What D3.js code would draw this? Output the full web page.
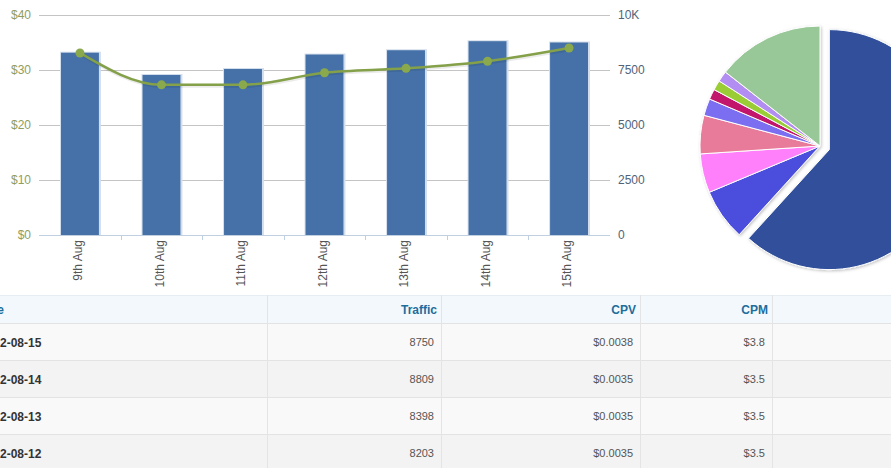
<!DOCTYPE html>
<html>
<head>
<meta charset="utf-8">
<script src="https://cdn.jsdelivr.net/npm/d3@7"></script>
<style>
  body { margin: 0; background: #fff; overflow: hidden; }
  svg { display: block; font-family: "Liberation Sans", Arial, sans-serif; }
</style>
</head>
<body>
<svg id="chart" width="891" height="468"></svg>
<script>
// daily chart data
const days = ["9th Aug", "10th Aug", "11th Aug", "12th Aug", "13th Aug", "14th Aug", "15th Aug"];
const traffic = [8286, 7273, 7545, 8203, 8398, 8809, 8750];
const spend = [33.1, 27.3, 27.3, 29.5, 30.3, 31.6, 34.0];
const spendTicks = [0, 10, 20, 30, 40];
const trafficTicks = [0, 2500, 5000, 7500, 10000];

// pie shares (percent), clockwise from 12 o'clock
const sourceShare = [61.75, 6.94, 5.25, 5.17, 2.28, 1.39, 1.33, 1.44, 14.44];
const sourceColors = ["#30509c", "#4b4edc", "#ff80fa", "#e87a9a", "#7b6ef0", "#c2166c", "#9acd36", "#b38ef2", "#98c898"];

// table
const tableHeads = ["Date", "Traffic", "CPV", "CPM", ""];
const rowDates = ["2012-08-15", "2012-08-14", "2012-08-13", "2012-08-12"];
const rowTraffic = [8750, 8809, 8398, 8203];
const rowCPV = ["$0.0038", "$0.0035", "$0.0035", "$0.0035"];
const rowCPM = ["$3.8", "$3.5", "$3.5", "$3.5"];

const svg = d3.select("#chart");

// shadow filter for the pie
const defs = svg.append("defs");
defs.append("filter").attr("id", "pieShadow")
    .attr("x", "-20%").attr("y", "-20%").attr("width", "140%").attr("height", "140%")
    .append("feDropShadow")
    .attr("dx", 1).attr("dy", 1).attr("stdDeviation", 1.5)
    .attr("flood-color", "#000").attr("flood-opacity", 0.25);

// ---- combo chart ----
const plotLeft = 39, plotRight = 610, plotTop = 15, plotBottom = 235;

const x = d3.scaleBand().domain(days).range([plotLeft, plotRight])
    .paddingInner(0.535).paddingOuter(0.27);
const yL = d3.scaleLinear().domain([0, 40]).range([plotBottom, plotTop]);
const yR = d3.scaleLinear().domain([0, 10000]).range([plotBottom, plotTop]);

// grid lines
svg.append("g").selectAll("line")
    .data(spendTicks.filter(d => d > 0))
    .enter().append("line")
    .attr("x1", plotLeft).attr("x2", plotRight)
    .attr("y1", d => Math.round(yL(d)) + 0.5).attr("y2", d => Math.round(yL(d)) + 0.5)
    .attr("stroke", "#c4c4c4");

// left axis ($)
const axL = svg.append("g").attr("transform", "translate(" + (plotLeft - 8) + ",0)")
    .call(d3.axisLeft(yL).tickValues(spendTicks).tickFormat(d => "$" + d).tickSize(0).tickPadding(0));
axL.select(".domain").remove();
axL.selectAll("text").attr("fill", "#8f9d5f").style("font-size", "12px");

// right axis (traffic)
const axR = svg.append("g").attr("transform", "translate(" + (plotRight + 8) + ",0)")
    .call(d3.axisRight(yR).tickValues(trafficTicks)
        .tickFormat(d => d >= 10000 ? (d / 1000) + "K" : d).tickSize(0).tickPadding(0));
axR.select(".domain").remove();
axR.selectAll("text").attr("fill", "#506379").style("font-size", "12px");

// bars
const bw = x.bandwidth();
const bars = svg.append("g").selectAll("g")
    .data(days).enter().append("g");
bars.append("rect")
    .attr("x", d => x(d) - 1)
    .attr("y", (d, i) => yR(traffic[i]) - 1)
    .attr("width", bw + 3)
    .attr("height", (d, i) => plotBottom - yR(traffic[i]) + 1)
    .attr("fill", "#d3deec");
bars.append("rect")
    .attr("x", d => x(d))
    .attr("y", (d, i) => yR(traffic[i]))
    .attr("width", bw)
    .attr("height", (d, i) => plotBottom - yR(traffic[i]))
    .attr("fill", "#4571a8");

// bottom axis line and boundary ticks
svg.append("line")
    .attr("x1", plotLeft).attr("x2", plotRight)
    .attr("y1", plotBottom + 0.5).attr("y2", plotBottom + 0.5)
    .attr("stroke", "#c0d0e0");
const gap = (x.step() - bw) / 2;
svg.append("g").selectAll("line")
    .data(days.slice(1)).enter().append("line")
    .attr("x1", d => Math.round(x(d) - gap) + 0.5)
    .attr("x2", d => Math.round(x(d) - gap) + 0.5)
    .attr("y1", plotBottom).attr("y2", plotBottom + 5)
    .attr("stroke", "#c0d0e0");

const axB = svg.append("g").attr("transform", "translate(0," + plotBottom + ")")
    .call(d3.axisBottom(x).tickSize(0).tickPadding(0));
axB.select(".domain").remove();
axB.selectAll("text")
    .attr("transform", "rotate(-90)")
    .attr("x", -5).attr("y", 0).attr("dy", "0.2em")
    .attr("text-anchor", "end")
    .attr("fill", "#555").style("font-size", "12px");

// spend line
const line = d3.line()
    .x((d, i) => x(days[i]) + bw / 2)
    .y(d => yL(d))
    .curve(d3.curveMonotoneX);
svg.append("path").datum(spend)
    .attr("d", line)
    .attr("fill", "none")
    .attr("stroke", "#000").attr("stroke-opacity", 0.08)
    .attr("stroke-width", 4)
    .attr("transform", "translate(1,1)");
svg.append("path").datum(spend)
    .attr("d", line)
    .attr("fill", "none")
    .attr("stroke", "#84a149")
    .attr("stroke-width", 2.5);
svg.append("g").selectAll("circle")
    .data(spend).enter().append("circle")
    .attr("cx", (d, i) => x(days[i]) + bw / 2)
    .attr("cy", d => yL(d))
    .attr("r", 4.5)
    .attr("fill", "#8aa84c");

// ---- pie ----
const pie = d3.pie().sort(null).value(d => d).startAngle(0).endAngle(2 * Math.PI);
const arc = d3.arc().innerRadius(0).outerRadius(120);
const pieG = svg.append("g")
    .attr("transform", "translate(820,146)")
    .attr("filter", "url(#pieShadow)");
pieG.selectAll("path")
    .data(pie(sourceShare)).enter().append("path")
    .attr("d", arc)
    .attr("fill", (d, i) => sourceColors[i])
    .attr("stroke", "#fff").attr("stroke-width", 1)
    .attr("transform", (d, i) => {
        if (i !== 0) return null;
        const mid = (d.startAngle + d.endAngle) / 2;
        return "translate(" + (Math.sin(mid) * 10) + "," + (-Math.cos(mid) * 10) + ")";
    });

// ---- table ----
const colEdges = [-30, 267, 441, 640, 772, 1000];
const tTop = 295, headH = 29, rowH = 37;
const table = svg.append("g");

table.append("rect")
    .attr("x", 0).attr("y", tTop).attr("width", 891).attr("height", headH)
    .attr("fill", "#f2f8fc");
table.selectAll(".row")
    .data(rowDates).enter().append("rect")
    .attr("x", 0).attr("y", (d, i) => tTop + headH + i * rowH)
    .attr("width", 891).attr("height", rowH)
    .attr("fill", (d, i) => i % 2 ? "#f3f3f3" : "#f9f9f9");

// horizontal rules
table.selectAll(".hr")
    .data(d3.range(rowDates.length + 1)).enter().append("line")
    .attr("x1", 0).attr("x2", 891)
    .attr("y1", i => tTop + headH + i * rowH - 0.5)
    .attr("y2", i => tTop + headH + i * rowH - 0.5)
    .attr("stroke", "#e3e3e3");
table.append("line")
    .attr("x1", 0).attr("x2", 891).attr("y1", tTop + 0.5).attr("y2", tTop + 0.5)
    .attr("stroke", "#e6edf3");
// vertical rules
table.selectAll(".vr")
    .data(colEdges.slice(1, 5)).enter().append("line")
    .attr("x1", d => d + 0.5).attr("x2", d => d + 0.5)
    .attr("y1", tTop).attr("y2", 468)
    .attr("stroke", "#e4e4e4");

// header text
table.selectAll(".th")
    .data(tableHeads).enter().append("text")
    .attr("x", (d, i) => i === 0 ? colEdges[0] + 8 : colEdges[i + 1] - 4)
    .attr("y", tTop + headH / 2)
    .attr("dy", "0.35em")
    .attr("text-anchor", (d, i) => i === 0 ? "start" : "end")
    .attr("fill", "#1e6d9b")
    .style("font-size", "12px").style("font-weight", "bold")
    .text(d => d);

// body cells
rowDates.forEach((date, i) => {
    const cy = tTop + headH + i * rowH + rowH / 2;
    const cells = [date, rowTraffic[i], rowCPV[i], rowCPM[i]];
    table.selectAll(".r" + i)
        .data(cells).enter().append("text")
        .attr("x", (d, j) => j === 0 ? colEdges[0] + 10 : colEdges[j + 1] - 7)
        .attr("y", cy)
        .attr("dy", "0.35em")
        .attr("text-anchor", (d, j) => j === 0 ? "start" : "end")
        .attr("fill", (d, j) => j === 0 ? "#333" : "#555")
        .style("font-size", (d, j) => j === 0 ? "12px" : "11px")
        .style("font-weight", (d, j) => j === 0 ? "bold" : "normal")
        .text(d => d);
});
</script>
</body>
</html>
